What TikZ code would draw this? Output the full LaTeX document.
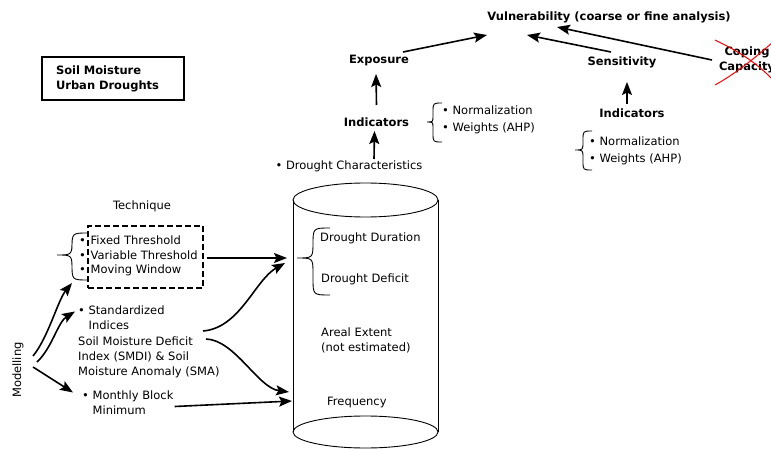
\documentclass[tikz,border=0pt]{standalone}
\usepackage{fontspec}
\setmainfont{DejaVu Sans}
\usetikzlibrary{arrows.meta,calc}
% curly brace: hook x, body x, tip x, top y, tip y, bottom y
\newcommand{\curlybr}[6]{%
  \draw[brline] (#1,#4) .. controls (#2,#4) .. ({#2},{#4+abs(#1-#2)})
    -- ({#2},{#5-abs(#2-#3)}) .. controls (#2,#5) .. (#3,#5)
    .. controls (#2,#5) .. ({#2},{#5+abs(#2-#3)})
    -- ({#2},{#6-abs(#1-#2)}) .. controls (#2,#6) .. (#1,#6);}
\newcommand{\bul}{\makebox[11.5pt][l]{•}}
\begin{document}
\begin{tikzpicture}[x=1pt,y=-1pt,
  every node/.style={inner sep=1pt},
  txt/.style={font=\fontsize{11.5}{15}\selectfont, align=left},
  bld/.style={font=\fontsize{11.5}{15}\selectfont\bfseries, align=center},
  arr/.style={line width=1.6pt,-{Stealth[length=13pt,width=10pt,inset=2.5pt]}},
  brline/.style={line width=0.9pt},
  cyl/.style={line width=0.9pt},
  cross/.style={red, line width=1pt}]
\useasboundingbox (0,0) rectangle (771,449);

% title box
\node[draw, line width=1.2pt, bld, align=left, text width=114pt, inner xsep=14pt,
      minimum height=43pt] (title) at (113,78.5) {Soil Moisture\\Urban Droughts};

% upper part: vulnerability framework
\node[bld] (vuln) at (609,17) {Vulnerability (coarse or fine analysis)};
\node[bld] (expo) at (379,61) {Exposure};
\node[bld] (indL) at (376.5,122) {Indicators};
\node[txt] (dchar) at (349,166) {• Drought Characteristics};
\node[txt, anchor=west] (normL) at (441,110) {• Normalization};
\node[txt, anchor=west] (wtL) at (441,128) {• Weights (AHP)};
\node[bld] (sens) at (622,62) {Sensitivity};
\node[bld] (indR) at (632,113) {Indicators};
\node[txt, anchor=west] (normR) at (588,141) {• Normalization};
\node[txt, anchor=west] (wtR) at (588,159) {• Weights (AHP)};
\node[bld] (cope) at (747,60) {Coping\\Capacity};

\curlybr{442}{433}{427}{103}{122}{142}
\curlybr{592}{583}{575}{131}{150}{170}

% crossed-out coping capacity
\draw[cross] (715,40) .. controls (740,52) and (758,64) .. (773,80);
\draw[cross] (773,42) .. controls (755,58) and (735,74) .. (715,85);

\draw[arr] ($(dchar)+(25,-7)$) -- ($(indL)+(-2,9)$);
\draw[arr] ($(indL)+(0,-17)$) -- ($(expo)+(-3,13)$);
\draw[arr] ($(indR)+(-5,-9)$) -- ($(sens)+(5,20)$);
\draw[arr] ($(expo)+(24,-9)$) -- ($(vuln)+(-122,18)$);
\draw[arr] ($(sens)+(-11,-10)$) -- ($(vuln)+(-82,18)$);
\draw[arr] ($(cope)+(-35,0)$) -- ($(vuln)+(-52,10)$);

% lower part: techniques
\node[txt] (tech) at (142,206) {Technique};
\node[draw, dashed, dash pattern=on 6pt off 3pt, line width=1.2pt,
      minimum width=115pt, minimum height=62pt] (tbox) at (145.5,257) {};
\node[txt, anchor=west] (fix) at (78,240) {\bul Fixed Threshold};
\node[txt, anchor=west] (var) at (78,255) {\bul Variable Threshold};
\node[txt, anchor=west] (mov) at (78,270) {\bul Moving Window};
\curlybr{88}{72}{57}{233}{255}{280}
\coordinate (btech) at (57,255);

\node[txt, anchor=west] (std) at (77,317.5) {• Standardized\\\hphantom{• }Indices};
\node[txt, anchor=west] (smdi) at (77,357) {Soil Moisture Deficit\\Index (SMDI) \& Soil\\Moisture Anomaly (SMA)};
\node[txt, anchor=west] (mbm) at (81,402.5) {• Monthly Block\\\hphantom{• }Minimum};
\node[txt, rotate=90] (modl) at (18,370) {Modelling};

% drought characteristics store
\draw[cyl] (365.5,200) ellipse [x radius=72.5, y radius=17];
\draw[cyl] (365.5,432) ellipse [x radius=72.5, y radius=16];
\draw[cyl] (293,200) -- (293,432);
\draw[cyl] (438,200) -- (438,432);

\node[txt, anchor=west] (dur) at (319,238) {Drought Duration};
\node[txt, anchor=west] (def) at (320,279) {Drought Deficit};
\node[txt, anchor=west] (area) at (320,340.5) {Areal Extent\\(not estimated)};
\node[txt, anchor=west] (freq) at (326,403) {Frequency};
\curlybr{330}{313}{297}{228}{258}{295}
\coordinate (bcyl) at (297,258);

% connectors
\draw[arr] ($(tbox.east)+(3,1)$) -- ($(bcyl)+(-10,0)$);
\draw[arr] ($(smdi.west)+(126,-26)$) .. controls (240,328) and (255,280) .. ($(bcyl)+(-12,5)$);
\draw[arr] ($(smdi.west)+(129,-18)$) .. controls (235,340) and (258,388) .. ($(freq.west)+(-37,-11)$);
\draw[arr] ($(mbm.east)+(0,4)$) -- ($(freq.west)+(-34,-2)$);

\draw[arr] ($(modl)+(15,-14)$) .. controls (48,338) and (58,300) .. ($(btech)+(15,28)$);
\draw[arr] ($(modl)+(19,-8)$) .. controls (52,348) and (58,322) .. ($(std.west)+(-2,-6)$);
\draw[arr] ($(modl)+(15,-3)$) -- ($(mbm.west)+(-8,-10)$);
\end{tikzpicture}
\end{document}
